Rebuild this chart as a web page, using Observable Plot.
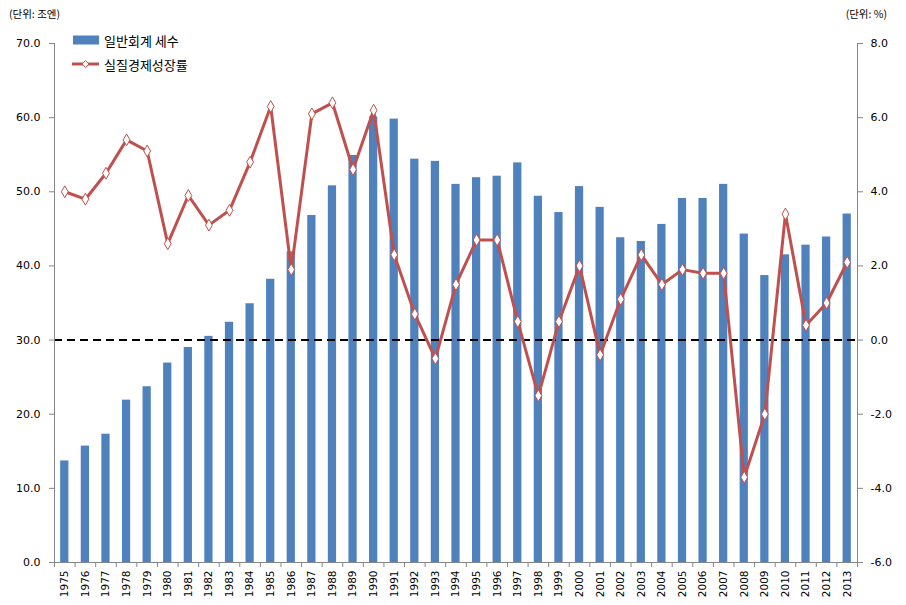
<!DOCTYPE html>
<html>
<head>
<meta charset="utf-8">
<script src="https://cdn.jsdelivr.net/npm/d3@7"></script>
<script src="https://cdn.jsdelivr.net/npm/@observablehq/plot@0.6"></script>
<style>
  body { margin: 0; background: #fff; }
  #wrap { position: relative; width: 906px; height: 605px; }
  .unit { position: absolute; font-family: "Noto Sans CJK KR", sans-serif; font-size: 10.5px; color: #000; line-height: 1; }
  .leg { position: absolute; font-family: "Noto Sans CJK KR", sans-serif; font-size: 13px; color: #000; display: flex; align-items: center; line-height: 1; }
  .leg svg { margin-right: 5px; }
</style>
</head>
<body>
<div id="wrap">
  <div class="unit" style="left:9px; top:9px;">(단위: 조엔)</div>
  <div class="unit" style="right:19px; top:9px;">(단위: %)</div>
  <div class="leg" style="left:73px; top:31px;">
    <svg width="26" height="18"><rect x="0" y="4.5" width="26" height="9" fill="#4F81BD"></rect></svg>
    <span>일반회계 세수</span>
  </div>
  <div class="leg" style="left:72px; top:55px;">
    <svg width="27" height="18"><line x1="0" y1="9" x2="27" y2="9" stroke="#C0504D" stroke-width="3"></line><path d="M13.5,5.5 L17,9 L13.5,12.5 L10,9 Z" fill="#fff" stroke="#C0504D" stroke-width="1"></path></svg>
    <span>실질경제성장률</span>
  </div>
</div>
<script>
const years = [1975,1976,1977,1978,1979,1980,1981,1982,1983,1984,1985,1986,1987,1988,1989,1990,1991,1992,1993,1994,1995,1996,1997,1998,1999,2000,2001,2002,2003,2004,2005,2006,2007,2008,2009,2010,2011,2012,2013];
const taxRevenue = [13.7,15.7,17.3,21.9,23.7,26.9,29.0,30.5,32.4,34.9,38.2,41.9,46.8,50.8,54.9,60.1,59.8,54.4,54.1,51.0,51.9,52.1,53.9,49.4,47.2,50.7,47.9,43.8,43.3,45.6,49.1,49.1,51.0,44.3,38.7,41.5,42.8,43.9,47.0];
const growthRate = [4.0,3.8,4.5,5.4,5.1,2.6,3.9,3.1,3.5,4.8,6.3,1.9,6.1,6.4,4.6,6.2,2.3,0.7,-0.5,1.5,2.7,2.7,0.5,-1.5,0.5,2.0,-0.4,1.1,2.3,1.5,1.9,1.8,1.8,-3.7,-2.0,3.4,0.4,1.0,2.1];
const leftTicks = [0,10,20,30,40,50,60,70];
const rightTicks = [-6,-4,-2,0,2,4,6,8];

// right axis (%) mapped onto left scale: -6..8  ->  0..70
const toLeft = r => (r + 6) * 5;
const fromLeft = v => v / 5 - 6;

const bars = years.map((y, i) => ({year: y, tax: taxRevenue[i]}));
const growth = years.map((y, i) => ({year: y, g: growthRate[i]}));

const W = 906, H = 605, mL = 54, mR = 49, mT = 43, mB = 43;
const step = (W - mL - mR) / years.length;
const frameH = H - mT - mB;
const gray = "#868686";

const chart = Plot.plot({
  width: W, height: H,
  marginLeft: mL, marginRight: mR, marginTop: mT, marginBottom: mB,
  style: {fontFamily: "DejaVu Sans", fontSize: "10px", color: "#000", background: "transparent"},
  x: {type: "band", domain: years, paddingInner: 0.6, paddingOuter: 0.3, round: false},
  y: {domain: [0, 70]},
  marks: [
    Plot.barY(bars, {x: "year", y: "tax", fill: "#4F81BD"}),
    Plot.ruleY([toLeft(0)], {stroke: "#000", strokeWidth: 2, strokeDasharray: "8,5"}),
    Plot.line(growth, {x: "year", y: d => toLeft(d.g), stroke: "#C0504D", strokeWidth: 3, strokeLinejoin: "round"}),
    Plot.dot(growth, {x: "year", y: d => toLeft(d.g), symbol: "diamond", r: 3.6, fill: "#fff", stroke: "#C0504D", strokeWidth: 1}),
    // axis lines
    Plot.ruleY([0], {stroke: gray}),
    Plot.ruleX([years[0]], {dx: -step / 2, stroke: gray}),
    Plot.ruleX([years[years.length - 1]], {dx: step / 2, stroke: gray}),
    // category boundary ticks
    Plot.ruleX(years, {dx: -step / 2, stroke: gray, insetTop: frameH, insetBottom: -5}),
    Plot.ruleX([years[years.length - 1]], {dx: step / 2, stroke: gray, insetTop: frameH, insetBottom: -5}),
    Plot.axisY({anchor: "left", ticks: leftTicks, tickFormat: d => d.toFixed(1), tickSize: 5, tickPadding: 9, stroke: gray, fill: "#000", label: null, fontSize: 11}),
    Plot.axisY({anchor: "right", ticks: rightTicks.map(toLeft), tickFormat: d => fromLeft(d).toFixed(1), tickSize: 5, tickPadding: 8, stroke: gray, fill: "#000", label: null, fontSize: 11}),
    Plot.axisX({tickSize: 0, tickRotate: -90, tickPadding: 8, tickFormat: d => String(d), label: null, fill: "#000", fontSize: 10.5})
  ]
});
chart.style.position = "absolute";
chart.style.left = "0px";
chart.style.top = "0px";
document.getElementById("wrap").prepend(chart);
</script>
</body>
</html>
